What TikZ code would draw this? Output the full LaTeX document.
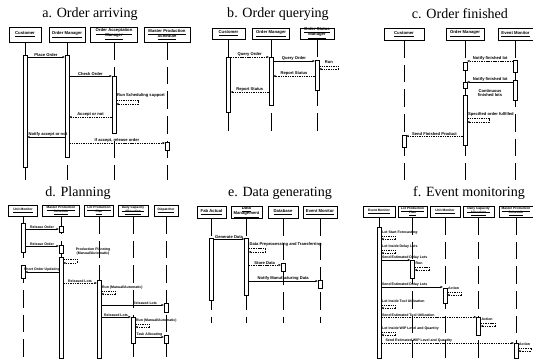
\documentclass[tikz,border=0pt]{standalone}
\usepackage{fontspec}
\setmainfont{Liberation Serif}
\setsansfont{Liberation Sans}
\usetikzlibrary{arrows.meta, positioning}
\tikzset{>={Stealth[length=2.2pt,width=1.8pt]}}

\begin{document}
\begin{tikzpicture}[
    x=0.3mm, y=-0.3mm,
    ttl/.style={font=\fontsize{12}{14}\selectfont, inner sep=0pt},
    hdr/.style={rectangle, draw, line width=0.4pt, minimum width=#1*0.3mm, minimum height=3.6mm, inner sep=0pt, align=center, font={\fontsize{3.6}{4.3}\selectfont\sffamily\bfseries\lineskiplimit=-10pt\relax}},
    hdrs/.style={hdr=#1, minimum height=3.3mm, font={\fontsize{2.8}{3.4}\selectfont\sffamily\bfseries\lineskiplimit=-10pt\relax}},
    bar/.style={rectangle, draw, fill=white, line width=0.4pt, inner sep=0pt, minimum width=3.4pt, minimum height=#1*0.3mm},
    life/.style={line width=0.45pt, dash pattern=on 15pt off 6pt},
    msg/.style={->, line width=0.35pt},
    ret/.style={->, line width=0.35pt, dash pattern=on 1.2pt off 0.8pt},
    lab/.style={font=\fontsize{3.5}{4}\selectfont\sffamily\bfseries, inner sep=0.6pt, align=center},
    labs/.style={font=\fontsize{3}{3.5}\selectfont\sffamily\bfseries, inner sep=0.6pt, align=center}
  ]
  \useasboundingbox (0,0) rectangle (533,360);

  % a. ORDER ARRIVING
  \node[ttl] (ta) at (90,14) {a. Order arriving};
  \node[hdr=32, minimum height=4.5mm] (aCu) at (25,34.5) {\underline{Customer}};
  \node[hdr=36, minimum height=4.5mm] (aOM) at (67,34.5) {\underline{Order Manager}};
  \node[hdr=47, minimum height=4.5mm] (aOA) at (114,34.5) {\underline{Order Acceptation}\\\underline{Manager}};
  \node[hdr=46, minimum height=4.5mm] (aMP) at (167,34.5) {\underline{Master Production}\\\underline{Schedule}};
  \coordinate (aEnd) at (0,180);
  \draw[life] (aCu.south) -- (aCu.south |- aEnd);
  \draw[life] (aOM.south) -- (aOM.south |- aEnd);
  \draw[life] (aOA.south) -- (aOA.south |- aEnd);
  \draw[life] (aMP.south) -- (aMP.south |- aEnd);
  \node[bar=112] (aCuBar) at (25,111) {};
  \node[bar=102] (aOMBar) at (67,106) {};
  \node[bar=57] (aOABar) at (114,104.5) {};
  \node[bar=8] (aMPBar) at (167,146) {};
  \coordinate (a1) at (0,57);
  \draw[msg] (a1 -| aCuBar.east) -- (a1 -| aOMBar.west) node[lab, midway, above] {Place Order};
  \coordinate (a2) at (0,76);
  \draw[msg] (a2 -| aOMBar.east) -- (a2 -| aOABar.west) node[lab, midway, above] {Check Order};
  \coordinate (a3) at (0,100);
  \draw[ret] (a3 -| aOABar.east) node[lab, above right, yshift=1.5pt] {Run Scheduling support} -- ++(22,0) |- ++(-22,4);
  \coordinate (a4) at (0,117);
  \draw[ret] (a4 -| aOABar.west) -- (a4 -| aOMBar.east) node[lab, midway, above] {Accept or not};
  \coordinate (a5) at (0,137);
  \draw[msg] (a5 -| aOMBar.west) -- (a5 -| aCuBar.east) node[lab, pos=0.45, above] {Notify accept or not};
  \coordinate (a6) at (0,143);
  \draw[ret] (a6 -| aOMBar.east) -- (a6 -| aMPBar.west) node[lab, midway, above] {If accept, release order};

  % b. ORDER QUERYING
  \node[ttl] (tb) at (278,14) {b. Order querying};
  \node[hdr=33, minimum height=3.3mm] (bCu) at (228.5,33.5) {\underline{Customer}};
  \node[hdr=37, minimum height=3.3mm] (bOM) at (271,33.5) {\underline{Order Manager}};
  \node[hdr=34, minimum height=3.3mm] (bOS) at (317,33.5) {\underline{Order Status}\\\underline{Manager}};
  \coordinate (bEnd) at (0,137);
  \draw[life] (bCu.south) -- (bCu.south |- bEnd);
  \draw[life] (bOM.south) -- (bOM.south |- bEnd);
  \draw[life] (bOS.south) -- (bOS.south |- bEnd);
  \node[bar=55] (bCuBar) at (228.5,84.5) {};
  \node[bar=48] (bOMBar) at (271,81) {};
  \node[bar=30] (bOSBar) at (317,75) {};
  \coordinate (b1) at (0,57);
  \draw[ret] (b1 -| bCuBar.east) -- (b1 -| bOMBar.west) node[lab, midway, above] {Query Order};
  \coordinate (b2) at (0,61);
  \draw[msg] (b2 -| bOMBar.east) -- (b2 -| bOSBar.west) node[lab, midway, above] {Query Order};
  \coordinate (b3) at (0,66);
  \draw[ret] (b3 -| bOSBar.east) node[lab, above right, xshift=4pt, yshift=1pt] {Run} -- ++(19,0) |- ++(-19,3);
  \coordinate (b4) at (0,76);
  \draw[ret] (b4 -| bOSBar.west) -- (b4 -| bOMBar.east) node[lab, midway, above] {Report Status};
  \coordinate (b5) at (0,92);
  \draw[ret] (b5 -| bOMBar.west) -- (b5 -| bCuBar.east) node[lab, midway, above] {Report Status};

  % c. ORDER FINISHED
  \node[ttl] (tc) at (460,14) {c. Order finished};
  \node[hdr=40] (cCu) at (404,34) {\underline{Customer}};
  \node[hdr=38] (cOM) at (465,34) {\underline{Order Manager}};
  \node[hdr=35] (cEM) at (515.5,34) {\underline{Event Monitor}};
  \coordinate (cEnd) at (0,180);
  \draw[life] (cCu.south) -- (cCu.south |- cEnd);
  \draw[life] (cOM.south) -- (cOM.south |- cEnd);
  \draw[life] (cEM.south) -- (cEM.south |- cEnd);
  \node[bar=12] (cEMBar1) at (515.5,66) {};
  \node[bar=8] (cOMBar1) at (465,66) {};
  \node[bar=20] (cEMBar2) at (515.5,90) {};
  \node[bar=6] (cOMBar2) at (465,85) {};
  \node[bar=50] (cOMBar3) at (465,120) {};
  \node[bar=12] (cCuBar) at (404,141) {};
  \coordinate (c1) at (0,61);
  \draw[ret] (c1 -| cEMBar1.west) -- (c1 -| cOMBar1.east) node[lab, midway, above] {Notify finished lot};
  \coordinate (c2) at (0,82);
  \draw[msg] (c2 -| cEMBar2.west) -- (c2 -| cOMBar2.east) node[lab, midway, above] {Notify finished lot};
  \node[lab] (cLoop) at (490,93) {Continuous\\finished lots};
  \coordinate (c3) at (0,118);
  \draw[ret] (c3 -| cOMBar3.east) node[lab, above right, yshift=1pt] {Specified order fulfilled} -- ++(22,0) |- ++(-22,4);
  \coordinate (c4) at (0,136);
  \draw[ret] (c4 -| cOMBar3.west) -- (c4 -| cCuBar.east) node[lab, midway, above] {Send Finished Product};

  % d. PLANNING
  \node[ttl] (td) at (78,193) {d. Planning};
  \node[hdrs=29] (dUM) at (23,210.5) {\underline{Unit Monitor}};
  \node[hdrs=37] (dMP) at (61,210.5) {\underline{Master Production}\\\underline{Schedule}};
  \node[hdrs=29] (dLP) at (99,210.5) {\underline{Lot Production}\\\underline{Plan}};
  \node[hdrs=30] (dDC) at (133,210.5) {\underline{Daily Capacity}\\\underline{Allocation}};
  \node[hdrs=24] (dRS) at (166,210.5) {\underline{Dispatcher}};
  \coordinate (dEnd) at (0,358);
  \draw[life] (dUM.south) -- (dUM.south |- dEnd);
  \draw[life] (dMP.south) -- (dMP.south |- dEnd);
  \draw[life] (dLP.south) -- (dLP.south |- dEnd);
  \draw[life] (dDC.south) -- (dDC.south |- dEnd);
  \draw[life] (dRS.south) -- (dRS.south |- dEnd);
  \node[bar=29] (dUMBar1) at (23,237.5) {};
  \node[bar=6] (dMPBar1) at (61,229.5) {};
  \node[bar=8] (dMPBar2) at (61,249) {};
  \node[bar=101] (dMPBar3) at (61,307.5) {};
  \node[bar=13] (dUMBar2) at (23,271.5) {};
  \node[bar=78] (dLPBar) at (99,319) {};
  \node[bar=9] (dRSBar1) at (166,307.5) {};
  \node[bar=26] (dDCBar) at (133,330) {};
  \node[bar=8] (dRSBar2) at (166,339) {};
  \coordinate (d1) at (0,229);
  \draw[msg] (d1 -| dUMBar1.east) -- (d1 -| dMPBar1.west) node[labs, midway, above] {Release Order};
  \coordinate (d2) at (0,246);
  \draw[msg] (d2 -| dUMBar1.east) -- (d2 -| dMPBar2.west) node[labs, midway, above] {Release Order};
  \node[labs] (dPlan) at (93,252) {Production Planning\\(Manual/Automatic)};
  \coordinate (d3) at (0,259);
  \draw[ret] (d3 -| dMPBar3.east) -- ++(14,0) |- ++(-14,4);
  \coordinate (d4) at (0,272);
  \draw[msg] (d4 -| dMPBar3.west) -- (d4 -| dUMBar2.east) node[labs, midway, above] {Short Order Updating};
  \coordinate (d5) at (0,283);
  \draw[ret] (d5 -| dMPBar3.east) -- (d5 -| dLPBar.west) node[labs, midway, above] {Released Lots};
  \coordinate (d6) at (0,291);
  \draw[ret] (d6 -| dLPBar.east) node[labs, above right, yshift=1pt] {Run (Manual/Automatic)} -- ++(14,0) |- ++(-14,3);
  \coordinate (d7) at (0,305);
  \draw[msg] (d7 -| dLPBar.east) -- (d7 -| dRSBar1.west) node[labs, pos=0.7, above] {Released Lots};
  \coordinate (d8) at (0,317);
  \draw[msg] (d8 -| dLPBar.east) -- (d8 -| dDCBar.west) node[labs, midway, above] {Released Lots};
  \coordinate (d9) at (0,324);
  \draw[ret] (d9 -| dDCBar.east) node[labs, above right, yshift=1pt] {Run (Manual/Automatic)} -- ++(14,0) |- ++(-14,3);
  \coordinate (d10) at (0,337);
  \draw[msg] (d10 -| dDCBar.east) -- (d10 -| dRSBar2.west) node[labs, midway, above] {Task Allocating};

  % e. DATA GENERATING
  \node[ttl] (te) at (280,193) {e. Data generating};
  \node[hdr=29] (eFA) at (211.5,212) {\underline{Fab Actual}};
  \node[hdr=31] (eDM) at (246.5,212) {\underline{Data}\\\underline{Management}};
  \node[hdr=30] (eDB) at (283,212) {\underline{Database}};
  \node[hdr=34] (eEM) at (320,212) {\underline{Event Monitor}};
  \coordinate (eEnd) at (0,323);
  \draw[life] (eFA.south) -- (eFA.south |- eEnd);
  \draw[life] (eDM.south) -- (eDM.south |- eEnd);
  \draw[life] (eDB.south) -- (eDB.south |- eEnd);
  \draw[life] (eEM.south) -- (eEM.south |- eEnd);
  \node[bar=62] (eFABar) at (211.5,269) {};
  \node[bar=57] (eDMBar) at (246.5,266.5) {};
  \node[bar=8] (eDBBar) at (283,267) {};
  \node[bar=8] (eEMBar) at (320,284) {};
  \coordinate (e1) at (0,239);
  \draw[msg] (e1 -| eFABar.east) -- (e1 -| eDMBar.west) node[lab, midway, above] {Generate Data};
  \coordinate (e2) at (0,248);
  \draw[ret] (e2 -| eDMBar.east) node[lab, above right, yshift=1pt] {Data Preprocessing and Transferring} -- ++(16,0) |- ++(-16,4);
  \coordinate (e3) at (0,265);
  \draw[ret] (e3 -| eDMBar.east) -- (e3 -| eDBBar.west) node[lab, midway, above] {Store Data};
  \coordinate (e4) at (0,281);
  \draw[msg] (e4 -| eDMBar.east) -- (e4 -| eEMBar.west) node[lab, midway, above] {Notify Manufacturing Data};

  % f. EVENT MONITORING
  \node[ttl] (tf) at (469,193) {f. Event monitoring};
  \node[hdrs=32] (fEM) at (379,211.5) {\underline{Event Monitor}};
  \node[hdrs=29] (fLP) at (412.5,211.5) {\underline{Lot Production}\\\underline{Plan}};
  \node[hdrs=30] (fUM) at (445,211.5) {\underline{Unit Monitor}};
  \node[hdrs=31] (fDC) at (478.5,211.5) {\underline{Daily Capacity}\\\underline{Allocation}};
  \node[hdrs=34] (fMP) at (516,211.5) {\underline{Master Production}\\\underline{Schedule}};
  \coordinate (fEnd) at (0,358);
  \draw[life] (fEM.south) -- (fEM.south |- fEnd);
  \draw[life] (fLP.south) -- (fLP.south |- fEnd);
  \draw[life] (fUM.south) -- (fUM.south |- fEnd);
  \draw[life] (fDC.south) -- (fDC.south |- fEnd);
  \draw[life] (fMP.south) -- (fMP.south |- fEnd);
  \node[bar=131] (fEMBar) at (379,292.5) {};
  \node[bar=18] (fLPBar) at (412.5,269) {};
  \node[bar=15] (fUMBar) at (445,295.5) {};
  \node[bar=18] (fDCBar) at (478.5,326) {};
  \node[bar=15] (fMPBar) at (516,350.5) {};
  \coordinate (f1) at (0,236);
  \draw[ret] (f1 -| fEMBar.east) node[labs, above right, yshift=1pt] {Lot Start Forecasting} -- ++(14,0) |- ++(-14,3);
  \coordinate (f2) at (0,250);
  \draw[ret] (f2 -| fEMBar.east) node[labs, above right, yshift=1pt] {Lot Inside Delay Lots} -- ++(14,0) |- ++(-14,3);
  \coordinate (f3) at (0,260);
  \draw[msg] (f3 -| fEMBar.east) -- (f3 -| fLPBar.west) node[labs, pos=0, above right] {Send Estimated Delay Lots};
  \coordinate (f4) at (0,267);
  \draw[ret] (f4 -| fLPBar.east) node[labs, above right, yshift=1pt] {Run} -- ++(14,0) |- ++(-14,3);
  \coordinate (f5) at (0,287);
  \draw[msg] (f5 -| fEMBar.east) -- (f5 -| fUMBar.west) node[labs, pos=0, above right] {Send Estimated Delay Lots};
  \coordinate (f6) at (0,292);
  \draw[ret] (f6 -| fUMBar.east) node[labs, above right, yshift=1pt] {Action} -- ++(14,0) |- ++(-14,3);
  \coordinate (f7) at (0,305);
  \draw[ret] (f7 -| fEMBar.east) node[labs, above right, yshift=1pt] {Lot Inside Tool Utilization} -- ++(14,0) |- ++(-14,3);
  \coordinate (f8) at (0,317);
  \draw[ret] (f8 -| fEMBar.east) -- (f8 -| fDCBar.west) node[labs, pos=0, above right] {Send Estimated Tool Utilization};
  \coordinate (f9) at (0,323);
  \draw[ret] (f9 -| fDCBar.east) node[labs, above right, yshift=1pt] {Action} -- ++(14,0) |- ++(-14,3);
  \coordinate (f10) at (0,332);
  \draw[ret] (f10 -| fEMBar.east) node[labs, above right, yshift=1pt] {Lot Inside WIP Level and Quantity} -- ++(14,0) |- ++(-14,3);
  \coordinate (f11) at (0,343);
  \draw[ret] (f11 -| fEMBar.east) -- (f11 -| fMPBar.west) node[labs, pos=0, above right, xshift=3pt] {Send Estimated WIP Level and Quantity};
  \coordinate (f12) at (0,348);
  \draw[ret] (f12 -| fMPBar.east) node[labs, above right, yshift=1pt] {Action} -- ++(13,0) |- ++(-13,3);
\end{tikzpicture}
\end{document}
